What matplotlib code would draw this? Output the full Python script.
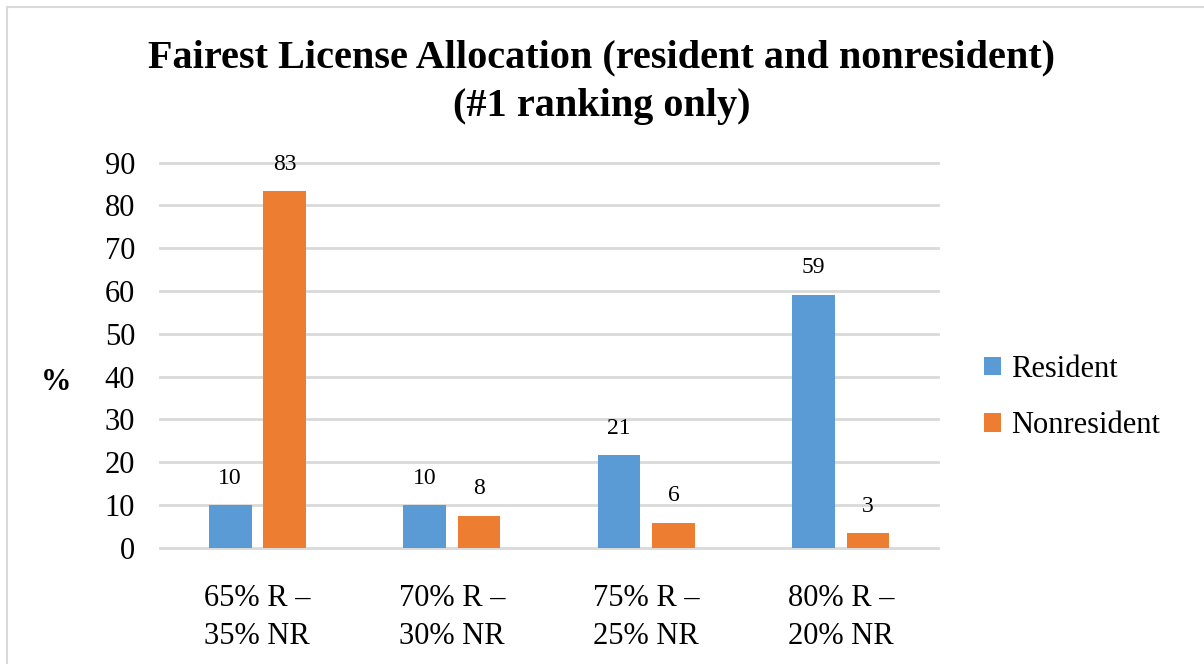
import numpy as np
import matplotlib.pyplot as plt
from matplotlib.patches import Rectangle

# Datos del gráfico
categorias = ['65% R –\n35% NR', '70% R –\n30% NR', '75% R –\n25% NR', '80% R –\n20% NR']
residente = [9.9, 9.9, 21.6, 59.1]
no_residente = [83.3, 7.4, 5.8, 3.4]
etiquetas_res = ['10', '10', '21', '59']
etiquetas_nores = ['83', '8', '6', '3']
series = ['Resident', 'Nonresident']

azul = '#5B9BD5'
naranja = '#ED7D31'

plt.rcParams['font.family'] = ['Liberation Serif', 'DejaVu Serif']

fig = plt.figure(figsize=(12.04, 6.64), dpi=100)
ax = fig.add_axes([0.133, 0.175, 0.646, 0.58])

x = np.arange(len(categorias))
ancho = 0.22
b1 = ax.bar(x - 0.14, residente, ancho, color=azul, label=series[0], zorder=3)
b2 = ax.bar(x + 0.14, no_residente, ancho, color=naranja, label=series[1], zorder=3)

for barra, txt in zip(b1, etiquetas_res):
    ax.annotate(txt, (barra.get_x() + barra.get_width() / 2, barra.get_height()),
                xytext=(0, 12), textcoords='offset points', ha='center', va='bottom', fontsize=17)
for barra, txt in zip(b2, etiquetas_nores):
    ax.annotate(txt, (barra.get_x() + barra.get_width() / 2, barra.get_height()),
                xytext=(0, 12), textcoords='offset points', ha='center', va='bottom', fontsize=17)

ax.set_xlim(-0.5, 3.5)
ax.set_ylim(0, 90)
ax.set_yticks(range(0, 91, 10))
ax.set_xticks(x)
ax.set_xticklabels(categorias, fontsize=22, linespacing=1.4)
ax.tick_params(axis='both', length=0, labelsize=22)
ax.tick_params(axis='x', pad=26)
ax.tick_params(axis='y', pad=18)
for spine in ax.spines.values():
    spine.set_visible(False)
ax.yaxis.grid(True, color='#d9d9d9', linewidth=2, zorder=0)
for gl in ax.get_ygridlines():
    gl.set_clip_on(False)

ax.set_ylabel('%', rotation=0, fontsize=22, fontweight='bold', va='center', ha='center')
ax.yaxis.set_label_coords(-0.134, 0.43)

fig.suptitle('Fairest License Allocation (resident and nonresident)\n(#1 ranking only)',
             fontsize=29, fontweight='bold', y=0.94, linespacing=1.4)

ax.legend(loc='center left', bbox_to_anchor=(1.0, 0.39), frameon=False, fontsize=22,
          handlelength=0.55, handleheight=0.55, handletextpad=0.35, labelspacing=0.9,
          borderaxespad=1.1)

# Borde del área del gráfico
fig.add_artist(Rectangle((0.006, -0.01), 1.2, 1.0, transform=fig.transFigure,
                         fill=False, edgecolor='#d9d9d9', linewidth=1.5))

fig.savefig('out.png', dpi=100)
